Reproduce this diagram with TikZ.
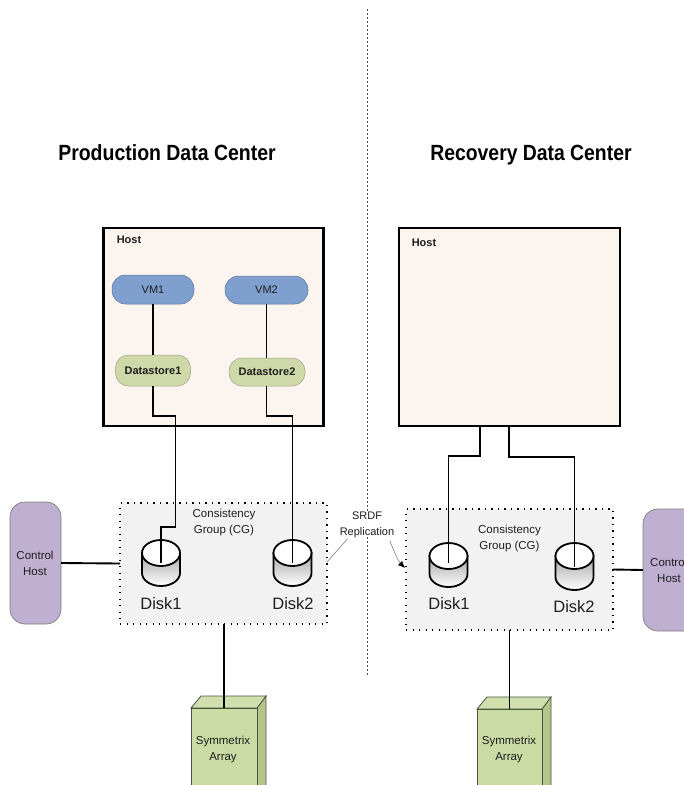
\documentclass[tikz,border=0pt]{standalone}
\usepackage{fontspec}
\usepackage{graphicx}
\setmainfont{Liberation Sans}
\usetikzlibrary{arrows.meta}
\definecolor{hostfill}{HTML}{FCF5EF}
\definecolor{vmfill}{HTML}{7F9FCF}
\definecolor{dsfill}{HTML}{CFD8A8}
\definecolor{cgfill}{HTML}{F2F2F2}
\definecolor{ctlfill}{HTML}{BFAFD0}
\definecolor{arrfill}{HTML}{CBDBA4}
\definecolor{arrside}{HTML}{B4C68C}
\definecolor{arredge}{HTML}{4A5540}
\definecolor{txt}{HTML}{1E1E1E}
\tikzset{
  box/.style={inner sep=0pt,outer sep=0pt,anchor=center},
  hostbox/.style={box,draw=black,line width=2.4pt,fill=hostfill},
  vmbox/.style={box,draw=vmfill!75!black,line width=.5pt,fill=vmfill,rounded corners=13.5pt,font=\fontsize{11}{13}\selectfont,text=txt},
  dsbox/.style={box,draw=dsfill!75!black,line width=.5pt,fill=dsfill,rounded corners=13pt,font=\bfseries\fontsize{11}{13}\selectfont,text=txt},
  cgbox/.style={box,draw=black,fill=cgfill,line width=1.3pt,dash pattern=on 1.3pt off 5.2pt},
  ctlbox/.style={box,draw=gray,line width=.7pt,fill=ctlfill,rounded corners=15pt},
  label/.style={inner sep=0pt,align=center,font=\fontsize{11.5}{16}\selectfont,text=txt},
  hostlabel/.style={inner sep=0pt,font=\bfseries\fontsize{11}{13}\selectfont,text=txt},
  disklabel/.style={inner sep=0pt,font=\fontsize{16.5}{18}\selectfont,text=txt},
  titlelabel/.style={inner sep=0pt,anchor=base,font=\bfseries\fontsize{22}{24}\selectfont,text=black},
  wire/.style={draw=black,line width=1.88pt},
  thinwire/.style={draw=gray,line width=.6pt}
}
% disk: name, centre x, top y, bottom y
\newcommand{\diskshape}[4]{%
  \coordinate (#1) at (#2,#3);
  \path[draw=black,line width=1.8pt,top color=black!35,bottom color=white]
    (#2-19,#3+13) -- (#2-19,#4-13) arc[start angle=180,end angle=0,x radius=19,y radius=13]
    -- (#2+19,#3+13) -- cycle;
  \path[draw=black,line width=1.8pt,fill=white]
    (#2,#3+13) ellipse[x radius=19,y radius=13];
}
% array: name, front left, front right, front top
\newcommand{\arrayshape}[4]{%
  \coordinate (#1) at ({(#2+#3)/2},#4);
  \path[draw=arredge,line width=.8pt,fill=arrside]
    (#3,#4) -- (#3+9,#4-12) -- (#3+9,790) -- (#3,800) -- cycle;
  \path[draw=arredge,line width=.8pt,fill=arrfill!90!white]
    (#2,#4) -- (#2+10,#4-12) -- (#3+9,#4-12) -- (#3,#4) -- cycle;
  \path[draw=arredge,line width=.8pt,fill=arrfill]
    (#2,#4) rectangle (#3,800);
}
\begin{document}
\begin{tikzpicture}[x=1pt,y=-1pt]
\useasboundingbox (0,0) rectangle (684,785);
\clip (0,0) rectangle (684,785);
\fill[white] (0,0) rectangle (684,785);

% centre divider
\coordinate (divtop) at (367,9);
\coordinate (divend) at (367,675);
\draw[black!70,line width=.7pt,dash pattern=on 2pt off 2pt] (divtop) -- (divend);

% titles
\node[titlelabel] (t1) at (167,160) {\scalebox{.885}[1]{Production Data Center}};
\node[titlelabel] (t2) at (531,160) {\scalebox{.88}[1]{Recovery Data Center}};

% hosts
\node[hostbox,minimum width=220pt,minimum height=198pt] (host1) at (213.5,327) {};
\node[hostbox,minimum width=221pt,minimum height=198pt] (host2) at (509.5,327) {};
\node[hostlabel] (hl1) at (129,240) {Host};
\node[hostlabel] (hl2) at (424,243) {Host};

% consistency groups
\node[cgbox,minimum width=207pt,minimum height=121pt] (cg1) at (223.5,563.5) {};
\node[cgbox,minimum width=207pt,minimum height=121pt] (cg2) at (509.5,569.5) {};
\node[label] (cgt1) at (224,523) {Consistency\\Group (CG)};
\node[label] (cgt2) at (509.5,539) {Consistency\\Group (CG)};

% VMs / datastores
\node[vmbox,minimum width=82pt,minimum height=29pt] (vm1) at (153,289.5) {VM1};
\node[vmbox,minimum width=83pt,minimum height=28pt] (vm2) at (266.5,290) {VM2};
\node[dsbox,minimum width=75pt,minimum height=31pt] (ds1) at (153,370.5) {Datastore1};
\node[dsbox,minimum width=76pt,minimum height=28pt] (ds2) at (267,372) {Datastore2};

% control hosts
\node[ctlbox,minimum width=51pt,minimum height=122pt] (ctl1) at (35.5,563) {};
\node[ctlbox,minimum width=57pt,minimum height=122pt] (ctl2) at (671.5,570) {};
\node[label] (ctlt1) at (35,563) {Control\\Host};
\node[label,anchor=west,align=left] (ctlt2) at (650,570) {Control\\\hspace*{7pt}Host};

% disks
\diskshape{d1}{161}{540}{586}
\diskshape{d2}{292.5}{540}{586}
\diskshape{d3}{448.5}{543}{587}
\diskshape{d4}{574.5}{543}{590}
\coordinate (d1e) at (161,563);
\coordinate (d2e) at (292.5,563);
\coordinate (d3e) at (448.5,563);
\coordinate (d4e) at (574.5,567);
\node[disklabel] (dl1) at (161,604) {Disk1};
\node[disklabel] (dl2) at (293,604) {Disk2};
\node[disklabel] (dl3) at (449,604) {Disk1};
\node[disklabel] (dl4) at (574,607) {Disk2};

% arrays
\arrayshape{a1}{191}{257}{708}
\arrayshape{a2}{477}{542}{709}
\node[label] (at1) at (223,750) {Symmetrix\\Array};
\node[label] (at2) at (509,750) {Symmetrix\\Array};

% wires
\draw[wire] (vm1.south) -- (ds1.north);
\draw[wire] (vm2.south) -- (ds2.north -| vm2.south);
\draw[wire] (ds1.south) |- (175.5,416) -- (175.5,527) -| (d1e);
\draw[wire] (vm2.south |- ds2.south) |- (292.5,416) -- (d2e);
\draw[wire] (480,426) -- (480,456) -| (d3e);
\draw[wire] (509,426) -- (509,457) -| (d4e);
\draw[wire] (ctl1.east) -- (cg1.west);
\draw[wire] (cg2.east) -- (ctl2.west);
\draw[wire] (cg1.south -| a1) -- (a1);
\draw[wire] (cg2.south -| a2) -- (a2);

% replication
\node[label,fill=white,font=\fontsize{11}{16}\selectfont] (srdf) at (367,524.5) {SRDF\\Replication};
\draw[thinwire] (srdf.south west) ++(8,1) -- (cg1.east |- 0,562);
\coordinate (cgin) at (405,568);
\draw[thinwire,-{Latex[black,length=7pt,width=6pt]}] (390,541) .. controls (394,552) and (399,562) .. (cgin);
\end{tikzpicture}
\end{document}
